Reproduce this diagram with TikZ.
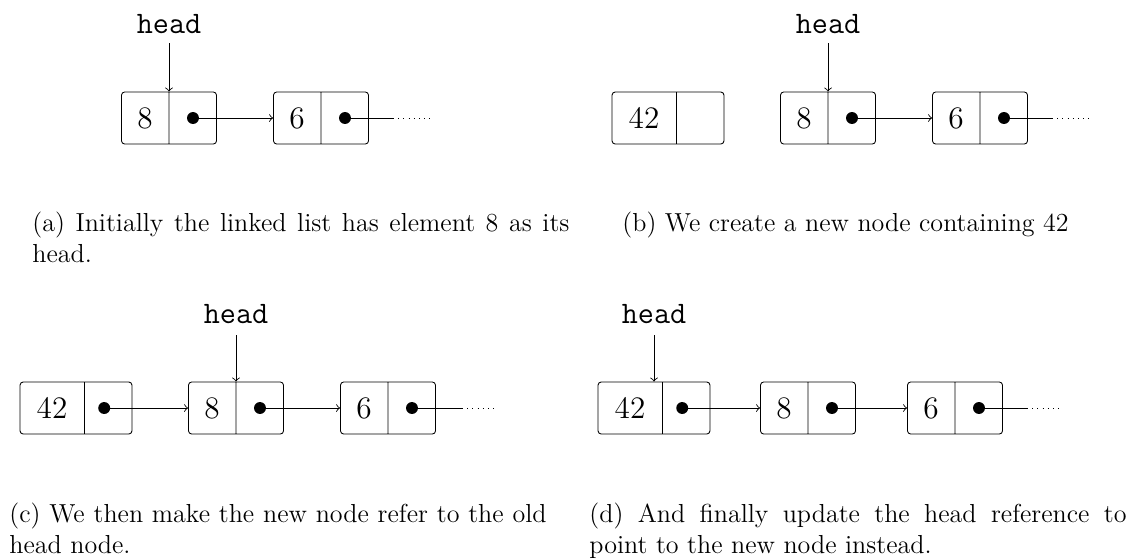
\documentclass[tikz,border=0pt]{standalone}
\usetikzlibrary{shapes.multipart,calc}

\tikzset{
  listnode/.style={rectangle split, rectangle split horizontal, rectangle split parts=2,
    draw, rounded corners=1.5pt, inner sep=0pt, minimum height=24pt,
    font=\fontsize{14.4}{18}\selectfont},
  ptr/.style={->},
  dotted tail/.style={dotted},
  headlabel/.style={font=\fontsize{14.4}{18}\selectfont\ttfamily, inner sep=0pt, anchor=base},
  caption/.style={align=justify, anchor=base west, inner sep=0pt, text width=247.5pt,
    font=\fontsize{12}{14.5}\selectfont},
  dotmark/.style={circle, fill=black, inner sep=0pt, minimum size=5.5pt},
}
% widths of the two kinds of cell in a list node
\newcommand{\cell}[1]{\makebox[21.7pt]{#1}}
\newcommand{\widecell}[1]{\makebox[29.5pt]{#1}}

\begin{document}
\begin{tikzpicture}[x=0.4608pt, y=-0.4608pt]
\useasboundingbox (0,0) rectangle (1128,558);

% ---------- (a) ----------
\node[listnode] (a8) at (169,118) {\cell{8}\nodepart{two}\cell{}};
\node[listnode] (a6) at (321,118) {\cell{6}\nodepart{two}\cell{}};
\node[dotmark] (a8p) at ($(a8.two split)!0.5!(a8.east)$) {};
\node[dotmark] (a6p) at ($(a6.two split)!0.5!(a6.east)$) {};
\node[headlabel] (ahead) at (169,33) {head};
\coordinate (astart) at (a8.north |- 0,43);
\coordinate (aend) at (393,118);
\coordinate (aend2) at (431,118);
\draw[ptr] (astart) -- (a8.north);
\draw[ptr] (a8p.center) -- (a6.west);
\draw (a6p.center) -- (aend);
\draw[dotted tail] (aend) -- (aend2);
\node[caption] (acap) at (32,231)
  {(a) Initially the linked list has element 8 as its head.};

% ---------- (b) ----------
\node[listnode] (b42) at (668,118) {\widecell{42}\nodepart{two}\cell{}};
\node[listnode] (b8) at (828,118) {\cell{8}\nodepart{two}\cell{}};
\node[listnode] (b6) at (980,118) {\cell{6}\nodepart{two}\cell{}};
\node[dotmark] (b8p) at ($(b8.two split)!0.5!(b8.east)$) {};
\node[dotmark] (b6p) at ($(b6.two split)!0.5!(b6.east)$) {};
\node[headlabel] (bhead) at (828,33) {head};
\coordinate (bstart) at (b8.north |- 0,43);
\coordinate (bend) at (1052,118);
\coordinate (bend2) at (1090,118);
\draw[ptr] (bstart) -- (b8.north);
\draw[ptr] (b8p.center) -- (b6.west);
\draw (b6p.center) -- (bend);
\draw[dotted tail] (bend) -- (bend2);
\node[caption, align=left, text width=] (bcap) at (622,231) {(b) We create a new node containing 42};

% ---------- (c) ----------
\node[listnode] (c42) at (76,408) {\widecell{42}\nodepart{two}\cell{}};
\node[listnode] (c8) at (236,408) {\cell{8}\nodepart{two}\cell{}};
\node[listnode] (c6) at (388,408) {\cell{6}\nodepart{two}\cell{}};
\node[dotmark] (c42p) at ($(c42.two split)!0.5!(c42.east)$) {};
\node[dotmark] (c8p) at ($(c8.two split)!0.5!(c8.east)$) {};
\node[dotmark] (c6p) at ($(c6.two split)!0.5!(c6.east)$) {};
\node[headlabel] (chead) at (236,323) {head};
\coordinate (cstart) at (c8.north |- 0,335);
\coordinate (cend) at (462,408);
\coordinate (cend2) at (498,408);
\draw[ptr] (cstart) -- (c8.north);
\draw[ptr] (c42p.center) -- (c8.west);
\draw[ptr] (c8p.center) -- (c6.west);
\draw (c6p.center) -- (cend);
\draw[dotted tail] (cend) -- (cend2);
\node[caption] (ccap) at (9,522)
  {(c) We then make the new node refer to the old head node.};

% ---------- (d) ----------
\node[listnode] (d42) at (654,408) {\widecell{42}\nodepart{two}\cell{}};
\node[listnode] (d8) at (808,408) {\cell{8}\nodepart{two}\cell{}};
\node[listnode] (d6) at (955,408) {\cell{6}\nodepart{two}\cell{}};
\node[dotmark] (d42p) at ($(d42.two split)!0.5!(d42.east)$) {};
\node[dotmark] (d8p) at ($(d8.two split)!0.5!(d8.east)$) {};
\node[dotmark] (d6p) at ($(d6.two split)!0.5!(d6.east)$) {};
\node[headlabel] (dhead) at (654,323) {head};
\coordinate (dstart) at (d42.north |- 0,335);
\coordinate (dend) at (1027,408);
\coordinate (dend2) at (1062,408);
\draw[ptr] (dstart) -- (d42.north);
\draw[ptr] (d42p.center) -- (d8.west);
\draw[ptr] (d8p.center) -- (d6.west);
\draw (d6p.center) -- (dend);
\draw[dotted tail] (dend) -- (dend2);
\node[caption] (dcap) at (589,522)
  {(d) And finally update the head reference to point to the new node instead.};
\end{tikzpicture}
\end{document}
